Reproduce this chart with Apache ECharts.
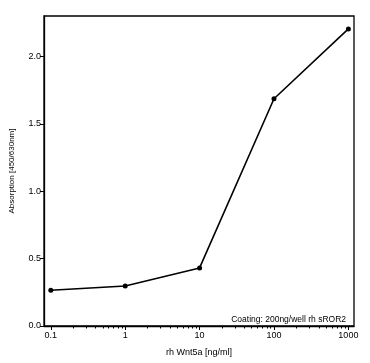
<!DOCTYPE html>
<html><head><meta charset="utf-8">
<script src="https://cdn.jsdelivr.net/npm/echarts@6/dist/echarts.min.js"></script>
<style>html,body{margin:0;padding:0;background:#fff}#c{width:370px;height:363px}</style>
</head><body><div id="c"></div>
<script>
const concentrations = [0.1, 1, 10, 100, 1000];
const absorption = [0.265, 0.297, 0.431, 1.686, 2.204];
const xTickLabels = [0.1, 1, 10, 100, 1000];
const xMinorTicks = [0.2,0.3,0.4,0.5,0.6,0.7,0.8,0.9,2,3,4,5,6,7,8,9,20,30,40,50,60,70,80,90,200,300,400,500,600,700,800,900];
const yTickLabels = [0, 0.5, 1.0, 1.5, 2.0];
const xName = 'rh Wnt5a [ng/ml]';
const yName = 'Absorption [450/630nm]';
const note = 'Coating: 200ng/well rh sROR2';

const font = 'Liberation Sans, Arial, sans-serif';
const chart = echarts.init(document.getElementById('c'));
const xMin = 0.081, xMax = 1190;
chart.setOption({
  animation: false,
  grid: {left: 43, top: 16, right: 16, bottom: 37, show: true, borderColor: '#000', borderWidth: 1.3},
  title: {text: note, right: 19, top: 310, textStyle: {fontSize: 8.5, fontWeight: 'normal', color: '#000', fontFamily: font}},
  xAxis: [{
    type: 'log', logBase: 10, min: xMin, max: xMax,
    name: xName, nameLocation: 'middle', nameGap: 22,
    nameTextStyle: {fontSize: 9, color: '#000', fontFamily: font},
    axisLine: {lineStyle: {color: '#000', width: 1.3}},
    axisTick: {show: true, length: 4, lineStyle: {color: '#000'}, customValues: xTickLabels},
    axisLabel: {fontSize: 9, color: '#000', fontFamily: font, margin: 5, customValues: xTickLabels,
      formatter: v => String(v)},
    splitLine: {show: false}
  }, {
    type: 'log', logBase: 10, min: xMin, max: xMax, position: 'bottom',
    axisLine: {show: false},
    axisTick: {show: true, length: 2.5, lineStyle: {color: '#000'}, customValues: xMinorTicks},
    axisLabel: {show: false},
    splitLine: {show: false}
  }],
  yAxis: {
    type: 'value', min: 0, max: 2.3,
    name: yName, nameLocation: 'middle', nameGap: 28, nameRotate: 90,
    nameTextStyle: {fontSize: 8, color: '#000', fontFamily: font},
    axisLine: {show: true, lineStyle: {color: '#000', width: 1.3}},
    axisTick: {show: true, length: 4, lineStyle: {color: '#000'}, customValues: yTickLabels},
    axisLabel: {fontSize: 9, color: '#000', fontFamily: font, margin: 3, customValues: yTickLabels,
      formatter: v => v.toFixed(1)},
    splitLine: {show: false}
  },
  series: [{
    type: 'line', xAxisIndex: 0,
    data: concentrations.map((c, i) => [c, absorption[i]]),
    symbol: 'circle', symbolSize: 5,
    itemStyle: {color: '#000'},
    lineStyle: {color: '#000', width: 1.6}
  }]
});
</script></body></html>
